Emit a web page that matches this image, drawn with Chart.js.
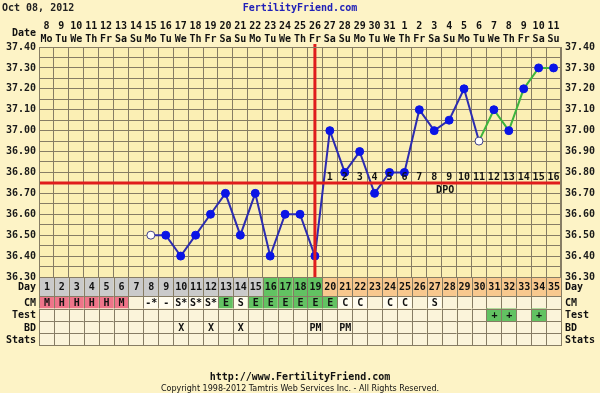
<!DOCTYPE html>
<html>
<head>
<meta charset="utf-8">
<script src="https://cdn.jsdelivr.net/npm/chart.js@4.4.0/dist/chart.umd.min.js"></script>
<style>
html, body { margin: 0; padding: 0; background: #fdf3c6; }
canvas { display: block; }
</style>
</head>
<body>
<canvas id="myChart" width="600" height="393"></canvas>
<script>
// chart data
var chartDate = 'Oct 08, 2012';
var cycleDays = ['1','2','3','4','5','6','7','8','9','10','11','12','13','14','15','16','17','18',
                 '19','20','21','22','23','24','25','26','27','28','29','30','31','32','33','34','35'];
var dates = ['8','9','10','11','12','13','14','15','16','17','18','19','20','21','22','23','24','25',
             '26','27','28','29','30','31','1','2','3','4','5','6','7','8','9','10','11'];
var weekdays = ['Mo','Tu','We','Th','Fr','Sa','Su','Mo','Tu','We','Th','Fr','Sa','Su','Mo','Tu','We','Th',
                'Fr','Sa','Su','Mo','Tu','We','Th','Fr','Sa','Su','Mo','Tu','We','Th','Fr','Sa','Su'];
var temps = [null, null, null, null, null, null, null,
             36.50, 36.50, 36.40, 36.50, 36.60, 36.70, 36.50, 36.70, 36.40, 36.60, 36.60, 36.40,
             37.00, 36.80, 36.90, 36.70, 36.80, 36.80, 37.10, 37.00, 37.05, 37.20, 36.95,
             37.10, 37.00, 37.20, 37.30, 37.30];
var openDays = [8, 30];       // discarded temps (open circles)
var coverline = 36.75;
var ovulationDay = 19;
var fertileDays = [16, 17, 18, 19];
var dpoLabels = ['1','2','3','4','5','6','7','8','9','10','11','12','13','14','15','16'];
var tempTicks = [36.30, 36.35, 36.40, 36.45, 36.50, 36.55, 36.60, 36.65, 36.70, 36.75, 36.80, 36.85,
                 36.90, 36.95, 37.00, 37.05, 37.10, 37.15, 37.20, 37.25, 37.30, 37.35, 37.40];
var cervicalMucus = ['M','H','H','H','H','M','','-*','-','S*','S*','S*','E','S','E','E','E','E','E','E',
                     'C','C','','C','C','','S','','','','','','','',''];
var tests = ['','','','','','','','','','','','','','','','','','','','','','','','','','','','','','',
             '+','+','','+',''];
var intercourse = ['','','','','','','','','','X','','X','','X','','','','','PM','','PM','','','','',
                   '','','','','','','','','',''];
var stats = ['','','','','','','','','','','','','','','','','','','','','','','','','','','','','','',
             '','','','',''];

var FONT = 'bold 10px "DejaVu Sans Mono"';
var GRID = '#867c64';

// cell backgrounds
function dayRowColor(d) {
    if (fertileDays.indexOf(d) >= 0) return '#62c262';
    if (d > ovulationDay) return '#f8c88e';
    return '#cacaca';
}
function cmColor(v) {
    if (v === 'M' || v === 'H') return '#ee7489';
    if (v === 'E') return '#62c262';
    if (v === '') return null;
    return '#fffcee';
}

var fertilityPlugin = {
    id: 'fertility',
    beforeDraw: function(chart) {
        var ctx = chart.ctx, a = chart.chartArea;
        ctx.save();
        ctx.fillStyle = '#fdf3c6';
        ctx.fillRect(0, 0, chart.width, chart.height);
        ctx.fillStyle = '#fbefb4';
        ctx.fillRect(a.left, a.top, a.right - a.left, a.bottom - a.top);
        ctx.restore();
    },
    afterDatasetsDraw: function(chart) {
        var ctx = chart.ctx, a = chart.chartArea;
        var x = chart.scales.x, y = chart.scales.y;
        ctx.save();
        // coverline
        ctx.strokeStyle = '#e01c1c';
        ctx.lineWidth = 3;
        var cy = Math.round(y.getPixelForValue(coverline));
        ctx.beginPath();
        ctx.moveTo(a.left, cy);
        ctx.lineTo(a.right, cy);
        ctx.stroke();
        // ovulation line
        var ox = x.getPixelForValue(ovulationDay - 1);
        ctx.beginPath();
        ctx.moveTo(ox, a.top - 3);
        ctx.lineTo(ox, a.bottom);
        ctx.stroke();
        // DPO numbers
        ctx.fillStyle = '#111';
        ctx.font = FONT;
        ctx.textAlign = 'center';
        ctx.textBaseline = 'middle';
        for (var i = 0; i < dpoLabels.length; i++) {
            ctx.fillText(dpoLabels[i], x.getPixelForValue(ovulationDay + i), cy - 6);
        }
        ctx.fillText('DPO', x.getPixelForValue(27) - 4, cy + 7);
        ctx.restore();
    },
    afterDraw: function(chart) {
        var ctx = chart.ctx, a = chart.chartArea;
        var x = chart.scales.x;
        var colW = x.getPixelForValue(1) - x.getPixelForValue(0);
        ctx.save();
        ctx.font = FONT;
        ctx.textBaseline = 'middle';

        // title
        ctx.fillStyle = '#222';
        ctx.textAlign = 'left';
        ctx.fillText(chartDate, 2, 8);
        ctx.fillStyle = '#2020b8';
        ctx.textAlign = 'center';
        ctx.fillText('FertilityFriend.com', 300, 8);

        // date header
        ctx.fillStyle = '#111';
        ctx.textAlign = 'right';
        ctx.fillText('Date', a.left - 3, 33);
        ctx.textAlign = 'center';
        for (var i = 0; i < dates.length; i++) {
            var cx = x.getPixelForValue(i);
            ctx.fillText(dates[i], cx, 26);
            ctx.fillText(weekdays[i], cx, 39);
        }

        // table rows under the plot
        var rows = [
            { name: 'Day', h: 19, vals: cycleDays },
            { name: 'CM', h: 12.5, vals: cervicalMucus },
            { name: 'Test', h: 12.5, vals: tests },
            { name: 'BD', h: 12, vals: intercourse },
            { name: 'Stats', h: 12, vals: stats }
        ];
        var top = a.bottom;
        rows.forEach(function(r) {
            for (var i = 0; i < r.vals.length; i++) {
                var x0 = x.getPixelForValue(i) - colW / 2;
                var bg = '#fbf4da';
                if (r.name === 'Day') bg = dayRowColor(i + 1);
                if (r.name === 'CM') bg = cmColor(r.vals[i]) || bg;
                if (r.name === 'Test' && r.vals[i] !== '') bg = '#62c262';
                ctx.fillStyle = bg;
                ctx.fillRect(x0, top, colW, r.h);
                ctx.strokeStyle = GRID;
                ctx.lineWidth = 1;
                ctx.strokeRect(Math.round(x0) + 0.5, Math.round(top) + 0.5, Math.round(colW), Math.round(r.h));
                if (r.vals[i] !== '') {
                    ctx.fillStyle = '#111';
                    ctx.textAlign = 'center';
                    ctx.fillText(r.vals[i], x.getPixelForValue(i) + 0.5, top + r.h / 2 + 1);
                }
            }
            ctx.fillStyle = '#111';
            ctx.textAlign = 'right';
            ctx.fillText(r.name, a.left - 3, top + r.h / 2 + 1);
            ctx.textAlign = 'left';
            ctx.fillText(r.name, a.right + 4, top + r.h / 2 + 1);
            top += r.h;
        });

        // plot border
        ctx.strokeStyle = GRID;
        ctx.strokeRect(a.left + 0.5, a.top + 0.5, a.right - a.left - 1, a.bottom - a.top);

        // footer
        ctx.fillStyle = '#111';
        ctx.textAlign = 'center';
        ctx.fillText('http://www.FertilityFriend.com', 300, 377);
        ctx.font = '8px "DejaVu Sans"';
        ctx.fillText('Copyright 1998-2012 Tamtris Web Services Inc. - All Rights Reserved.', 300, 389);
        ctx.restore();
    }
};

var tickFont = { family: 'DejaVu Sans Mono', weight: 'bold', size: 10 };
function tempLabel(value) {
    var v = Math.round(value * 100);
    return v % 10 === 0 ? (v / 100).toFixed(2) : '';
}
function setTempTicks(scale) {
    scale.ticks = tempTicks.map(function(v) { return { value: v }; });
}

var ctx = document.getElementById('myChart').getContext('2d');
var myChart = new Chart(ctx, {
    type: 'line',
    data: {
        labels: cycleDays,
        datasets: [{
            data: temps,
            borderColor: '#2c2cb0',
            borderWidth: 2,
            tension: 0,
            pointRadius: 4,
            pointBorderWidth: 1,
            pointBackgroundColor: function(c) {
                return openDays.indexOf(c.dataIndex + 1) >= 0 ? '#ffffff' : '#0a14e6';
            },
            pointBorderColor: function(c) {
                return openDays.indexOf(c.dataIndex + 1) >= 0 ? '#40408a' : '#0a14e6';
            },
            segment: {
                borderColor: function(c) {
                    return c.p0DataIndex + 1 >= openDays[1] ? '#3db43d' : undefined;
                }
            }
        }]
    },
    plugins: [fertilityPlugin],
    options: {
        responsive: false,
        animation: false,
        devicePixelRatio: 1,
        layout: { padding: { top: 47, bottom: 116, left: 0, right: 0 } },
        plugins: { legend: { display: false }, tooltip: { enabled: false } },
        scales: {
            x: {
                type: 'category',
                offset: true,
                grid: { offset: true, color: GRID, drawTicks: false },
                border: { display: false },
                ticks: { display: false },
                afterFit: function(s) { s.height = 0; }
            },
            y: {
                position: 'left',
                min: 36.30,
                max: 37.40,
                afterBuildTicks: setTempTicks,
                grid: { color: GRID, drawTicks: false },
                border: { display: false },
                ticks: { font: tickFont, color: '#1a1a1a', padding: 3, autoSkip: false, callback: tempLabel },
                afterFit: function(s) { s.width = 39; }
            },
            y2: {
                position: 'right',
                min: 36.30,
                max: 37.40,
                afterBuildTicks: setTempTicks,
                grid: { display: false, drawTicks: false },
                border: { display: false },
                ticks: { font: tickFont, color: '#1a1a1a', padding: 4, autoSkip: false, callback: tempLabel },
                afterFit: function(s) { s.width = 39; }
            }
        }
    }
});
</script>
</body>
</html>
